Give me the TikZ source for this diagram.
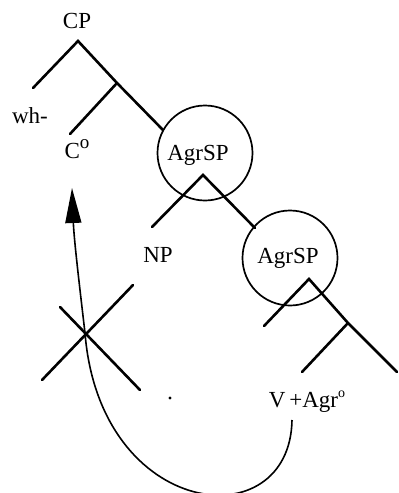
\documentclass[tikz,border=0pt]{standalone}
\usepackage{fontspec}
\setmainfont{Liberation Serif}
\usetikzlibrary{arrows.meta}

% raised o on heads
\newcommand{\headmark}[1]{\raisebox{0.42em}{\fontsize{#1}{#1}\selectfont o}}

\begin{document}
\begin{tikzpicture}
  [x=1pt,y=-1pt,>={Triangle[length=35pt,width=16pt]},
  branch/.style={line width=2.6pt,line cap=round},
  label node/.style={font=\fontsize{23}{27}\selectfont,inner sep=0pt,anchor=base},
  ring/.style={circle,draw,line width=1.7pt,minimum size=95pt,inner sep=0pt},
  move/.style={line width=1.6pt}]
  \useasboundingbox (0,0) rectangle (399,493);

  % labels
  \node[label node] (cp) at (77,28) {CP};
  \node[label node] (wh) at (30,123) {wh-};
  \node[label node] (c0) at (77,158) {C\headmark{19}};
  \node[label node] (np) at (158,262) {NP};
  \node[label node] (agr1) at (198,160) {AgrSP};
  \node[label node] (agr2) at (288,263) {AgrSP};
  \node[label node] (vagr) at (307,407) {V\,+Agr\headmark{14}};
  \node[circle,fill,inner sep=1.2pt] (dot) at (170,398) {};

  % circles round the two AgrSP
  \node[ring] (ring1) at (205,153) {};
  \node[ring] (ring2) at (290,258) {};

  % branch points
  \coordinate (1) at (78,41);
  \coordinate (2) at (117,83);
  \coordinate (3) at (33,88);
  \coordinate (4) at (70,134);
  \coordinate (5) at (163,130);
  \coordinate (6) at (203,175);
  \coordinate (7) at (152,227);
  \coordinate (8) at (255,228);
  \coordinate (9) at (309,279);
  \coordinate (10) at (264,326);
  \coordinate (11) at (348,323);
  \coordinate (12) at (397,372);
  \coordinate (13) at (302,372);

  \draw[branch] (3) -- (1) -- (2) -- (5);
  \draw[branch] (2) -- (4);
  \draw[branch] (7) -- (6) -- (8);
  \draw[branch] (10) -- (9) -- (11) -- (12);
  \draw[branch] (11) -- (13);

  % crossed-out position
  \coordinate (x1) at (133,285);
  \coordinate (x2) at (42,380);
  \coordinate (x3) at (60,307);
  \coordinate (x4) at (140,390);
  \draw[branch] (x1) -- (x2);
  \draw[branch] (x3) -- (x4);

  % head movement
  \coordinate (from) at (292,420);
  \coordinate (cross) at (85,333);
  \coordinate (tip) at (72,188);
  \draw[move,->] (from) .. controls (290,540) and (100,520) .. (cross)
    .. controls (80,290) and (74,240) .. (tip);
\end{tikzpicture}
\end{document}
